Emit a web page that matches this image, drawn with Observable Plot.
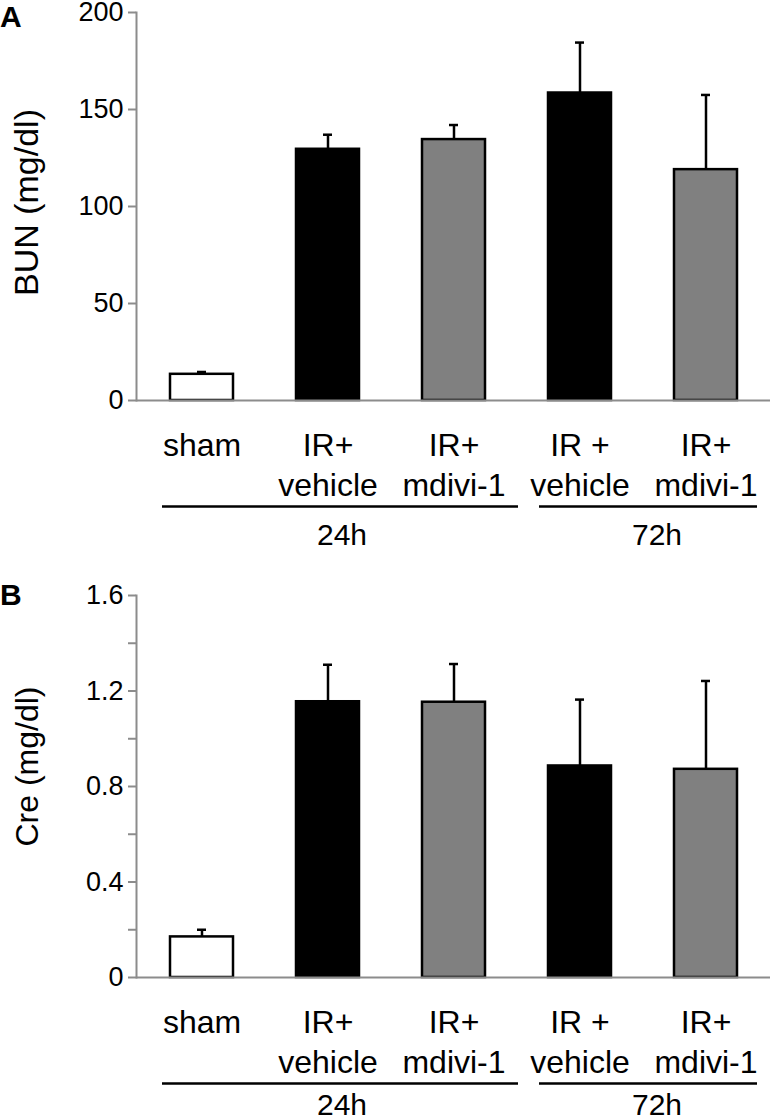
<!DOCTYPE html>
<html>
<head>
<meta charset="utf-8">
<script src="https://cdn.jsdelivr.net/npm/d3@7"></script>
<script src="https://cdn.jsdelivr.net/npm/@observablehq/plot@0.6"></script>
<style>
  body { margin: 0; background: #fff; }
  #root { position: relative; width: 773px; height: 1119px; overflow: hidden; font-family: "Liberation Sans", Arial, sans-serif; }
  .letter { position: absolute; left: 0; font-weight: bold; font-size: 30px; line-height: 1; }
  svg { display: block; }
</style>
</head>
<body>
<div id="root"></div>
<script>
// ---- data ----
const categories = ["sham", "IR+ vehicle 24h", "IR+ mdivi-1 24h", "IR+ vehicle 72h", "IR+ mdivi-1 72h"];
const categoryLabels = ["sham", "IR+\nvehicle", "IR+\nmdivi-1", "IR +\nvehicle", "IR+\nmdivi-1"];
const barFills = ["white", "black", "#808080", "black", "#808080"];

const bunMean = [13.5, 129.5, 134.5, 158.5, 119];
const bunErr  = [1.2, 7.5, 7.5, 26, 38.5];
const bunTicks = [0, 50, 100, 150, 200];
const bunTickLabels = ["0", "50", "100", "150", "200"];

const creMean = [0.17, 1.155, 1.153, 0.886, 0.872];
const creErr  = [0.03, 0.155, 0.16, 0.278, 0.37];
const creTicks = [0, 0.2, 0.4, 0.6, 0.8, 1.0, 1.2, 1.4, 1.6];
const creTickLabels = ["0", "", "0.4", "", "0.8", "", "1.2", "", "1.6"];

const groupLabels = ["24h", "72h"];
const groupFrom = ["sham", "IR+ vehicle 72h"];
const groupTo = ["IR+ mdivi-1 24h", "IR+ mdivi-1 72h"];
const groupMid = ["IR+ vehicle 24h", "IR+ vehicle 72h"];

// ---- drawing ----
const gray = "#8c8c8c";
const font = "'Liberation Sans', Arial, sans-serif";
const groupStyle = [
  {insetLeft: -8, insetRight: -33, dx: 14},
  {insetLeft: -9, insetRight: -20, dx: 77}
];

function panel({means, errs, ticks, tickLabels, yLabel, yLabelSize, height, marginTop, marginBottom, labelDy, groupDy}) {
  const rows = categories.map((c, i) => ({
    cat: c, label: categoryLabels[i], fill: barFills[i], mean: means[i], upper: means[i] + errs[i]
  }));
  const groups = groupLabels.map((g, i) => ({label: g, from: groupFrom[i], to: groupTo[i], mid: groupMid[i]}));
  const groupMarks = groups.flatMap((g, i) => [
    Plot.ruleY([g], {y: () => 0, x1: "from", x2: "to", dy: 106, stroke: "black", strokeWidth: 2.5,
      insetLeft: groupStyle[i].insetLeft, insetRight: groupStyle[i].insetRight}),
    Plot.text([g], {x: "mid", text: "label", frameAnchor: "bottom", lineAnchor: "top", dy: groupDy,
      dx: groupStyle[i].dx, fontSize: 30, fill: "black"})
  ]);
  return Plot.plot({
    width: 773, height, marginTop, marginBottom, marginLeft: 136, marginRight: 3,
    style: {fontFamily: font, fontSize: "27px", background: "white", overflow: "visible", color: "black"},
    x: {domain: categories, range: [136, 770], paddingInner: 0.5, paddingOuter: 0.25, axis: null},
    y: {domain: [0, ticks[ticks.length - 1]], axis: null},
    color: {type: "identity"},
    marks: [
      Plot.ruleX(rows, {x: "cat", y1: "mean", y2: "upper", stroke: "black", strokeWidth: 2.5}),
      Plot.tickY(rows, {x: "cat", y: "upper", stroke: "black", strokeWidth: 2.5, insetLeft: 27, insetRight: 27}),
      Plot.barY(rows, {x: "cat", y: "mean", fill: "fill", stroke: "black", strokeWidth: 2.5}),
      Plot.frame({anchor: "left", stroke: gray, strokeWidth: 2}),
      Plot.ruleY([0], {stroke: gray, strokeWidth: 2}),
      Plot.axisY(ticks, {tickSize: 8, tickPadding: 5, strokeWidth: 2, stroke: gray, fill: "black",
        tickFormat: d => tickLabels[ticks.indexOf(d)], fontSize: 27, label: null}),
      Plot.text([yLabel], {frameAnchor: "left", textAnchor: "middle", rotate: -90, dx: -109, dy: labelDy,
        fontSize: yLabelSize, fill: "black"}),
      Plot.text(rows, {x: "cat", text: "label", frameAnchor: "bottom", lineAnchor: "top", dy: 27,
        fontSize: 32, lineHeight: 1.25, fill: "black"}),
      ...groupMarks
    ]
  });
}

const root = document.getElementById("root");
const a = panel({means: bunMean, errs: bunErr, ticks: bunTicks, tickLabels: bunTickLabels,
  yLabel: "BUN (mg/dl)", yLabelSize: 34, height: 560, marginTop: 12, marginBottom: 160, labelDy: -4, groupDy: 123});
const b = panel({means: creMean, errs: creErr, ticks: creTicks, tickLabels: creTickLabels,
  yLabel: "Cre (mg/dl)", yLabelSize: 32, height: 559, marginTop: 35, marginBottom: 142, labelDy: -20, groupDy: 116});
root.appendChild(a);
root.appendChild(b);

const la = document.createElement("div");
la.className = "letter"; la.style.top = "2px"; la.textContent = "A";
const lb = document.createElement("div");
lb.className = "letter"; lb.style.top = "580px"; lb.textContent = "B";
root.appendChild(la);
root.appendChild(lb);
</script>
</body>
</html>
